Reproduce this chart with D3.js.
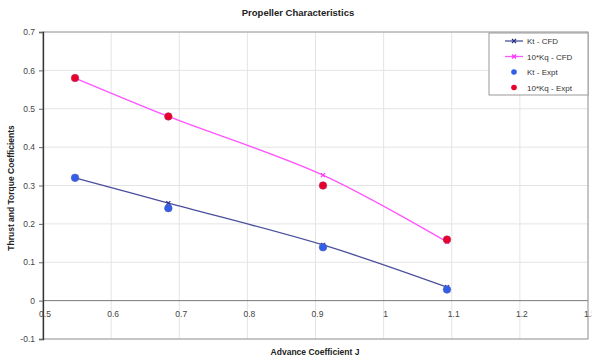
<!DOCTYPE html>
<html>
<head>
    <meta charset="utf-8">
    <title>Propeller Characteristics</title>
    <script src="https://d3js.org/d3.v7.min.js"></script>
    <style>
        body { margin: 0; background: white; }
        text { font-family: "Liberation Sans", Arial, sans-serif; }
    </style>
</head>
<body>
    <div id="chart"></div>

    <script>
        // advance coefficient J
        const jValues = [0.547, 0.684, 0.911, 1.093];
        const ktCfd = [0.32, 0.254, 0.145, 0.035];
        const kqCfd = [0.58, 0.48, 0.327, 0.153];
        const ktExpt = [0.32, 0.241, 0.139, 0.029];
        const kqExpt = [0.58, 0.48, 0.30, 0.159];

        const xTicks = [0.5, 0.6, 0.7, 0.8, 0.9, 1, 1.1, 1.2, 1.3];
        const yTicks = [-0.1, 0, 0.1, 0.2, 0.3, 0.4, 0.5, 0.6, 0.7];

        const seriesNames = ["Kt - CFD", "10*Kq - CFD", "Kt - Expt", "10*Kq - Expt"];

        const width = 592;
        const height = 358;
        const plotLeft = 43, plotRight = 588, plotTop = 32, plotBottom = 339;

        // excel style numbers, plain hyphen for minus
        const fmt = d => String(+d.toFixed(2));

        const svg = d3.select("#chart")
            .append("svg")
            .attr("width", width)
            .attr("height", height);

        const x = d3.scaleLinear().domain([0.5, 1.3]).range([plotLeft, plotRight]);
        const y = d3.scaleLinear().domain([-0.1, 0.7]).range([plotBottom, plotTop]);

        // grid
        svg.selectAll(".vgrid")
            .data(xTicks)
            .enter()
            .append("line")
            .attr("x1", d => x(d)).attr("x2", d => x(d))
            .attr("y1", plotTop).attr("y2", plotBottom)
            .attr("stroke", "#e4e4e4");

        svg.selectAll(".hgrid")
            .data(yTicks)
            .enter()
            .append("line")
            .attr("x1", plotLeft).attr("x2", plotRight)
            .attr("y1", d => y(d)).attr("y2", d => y(d))
            .attr("stroke", d => d === 0 ? "#777" : "#e4e4e4");

        // plot border
        svg.append("rect")
            .attr("x", plotLeft).attr("y", plotTop)
            .attr("width", plotRight - plotLeft).attr("height", plotBottom - plotTop)
            .attr("fill", "none")
            .attr("stroke", "#999");

        // y axis
        const yAxis = svg.append("g")
            .attr("transform", `translate(${plotLeft},0)`)
            .call(d3.axisLeft(y).tickValues(yTicks).tickSize(4).tickFormat(fmt));
        yAxis.select(".domain").attr("stroke", "#333").attr("stroke-width", 1.3);
        yAxis.selectAll(".tick line").attr("stroke", "#666");
        yAxis.selectAll("text")
            .attr("font-size", 8.5)
            .attr("fill", "#444")
            .attr("x", -8);

        // x axis labels sit just below the zero line
        svg.selectAll(".xlab")
            .data(xTicks)
            .enter()
            .append("text")
            .attr("x", d => x(d) + 2)
            .attr("y", y(0) + 16)
            .attr("text-anchor", "middle")
            .attr("font-size", 8.5)
            .attr("fill", "#444")
            .text(fmt);

        // lines
        const line = d3.line()
            .x((d, i) => x(jValues[i]))
            .y(d => y(d))
            .curve(d3.curveCatmullRom.alpha(0.5));

        svg.append("path")
            .datum(ktCfd)
            .attr("d", line)
            .attr("fill", "none")
            .attr("stroke", "#4b4f9c")
            .attr("stroke-width", 1.3);

        svg.append("path")
            .datum(kqCfd)
            .attr("d", line)
            .attr("fill", "none")
            .attr("stroke", "#ff55ff")
            .attr("stroke-width", 1.3);

        function cross(g, cx, cy, color) {
            g.append("path")
                .attr("d", `M${cx - 2},${cy - 2}L${cx + 2},${cy + 2}M${cx - 2},${cy + 2}L${cx + 2},${cy - 2}`)
                .attr("stroke", color)
                .attr("stroke-width", 1.2);
        }

        ktCfd.forEach((d, i) => cross(svg, x(jValues[i]), y(d), "#2a2f80"));
        kqCfd.forEach((d, i) => cross(svg, x(jValues[i]), y(d), "#ff33ff"));

        svg.selectAll(".kte")
            .data(ktExpt)
            .enter()
            .append("circle")
            .attr("cx", (d, i) => x(jValues[i]))
            .attr("cy", d => y(d))
            .attr("r", 3.8)
            .attr("fill", "#3060e8")
            .attr("stroke", "#5a5ab0")
            .attr("stroke-width", 0.6);

        svg.selectAll(".kqe")
            .data(kqExpt)
            .enter()
            .append("circle")
            .attr("cx", (d, i) => x(jValues[i]))
            .attr("cy", d => y(d))
            .attr("r", 3.8)
            .attr("fill", "#e8002a")
            .attr("stroke", "#b0306a")
            .attr("stroke-width", 0.6);

        // titles
        svg.append("text")
            .attr("x", 298).attr("y", 16)
            .attr("text-anchor", "middle")
            .attr("font-size", 9.5)
            .attr("font-weight", "bold")
            .attr("fill", "#222")
            .text("Propeller Characteristics");

        svg.append("text")
            .attr("x", 315).attr("y", 355)
            .attr("text-anchor", "middle")
            .attr("font-size", 8.5)
            .attr("font-weight", "bold")
            .attr("fill", "#222")
            .text("Advance Coefficient J");

        svg.append("text")
            .attr("transform", "translate(14,188) rotate(-90)")
            .attr("text-anchor", "middle")
            .attr("font-size", 8.5)
            .attr("font-weight", "bold")
            .attr("fill", "#222")
            .text("Thrust and Torque Coefficients");

        // legend
        const legend = svg.append("g");
        legend.append("rect")
            .attr("x", 489).attr("y", 33)
            .attr("width", 99).attr("height", 62)
            .attr("fill", "white")
            .attr("stroke", "#999");

        const legendColors = ["#4b4f9c", "#ff55ff", "#3060e8", "#e8002a"];
        seriesNames.forEach((name, i) => {
            const ly = 41 + i * 15.5;
            if (i < 2) {
                legend.append("line")
                    .attr("x1", 505).attr("x2", 523)
                    .attr("y1", ly).attr("y2", ly)
                    .attr("stroke", legendColors[i])
                    .attr("stroke-width", 1.3);
                cross(legend, 514, ly, i === 0 ? "#2a2f80" : "#ff33ff");
            } else {
                legend.append("circle")
                    .attr("cx", 514).attr("cy", ly)
                    .attr("r", 2.8)
                    .attr("fill", legendColors[i]);
            }
            legend.append("text")
                .attr("x", 527).attr("y", ly + 3)
                .attr("font-size", 8)
                .attr("fill", "#333")
                .text(name);
        });
    </script>
</body>
</html>
